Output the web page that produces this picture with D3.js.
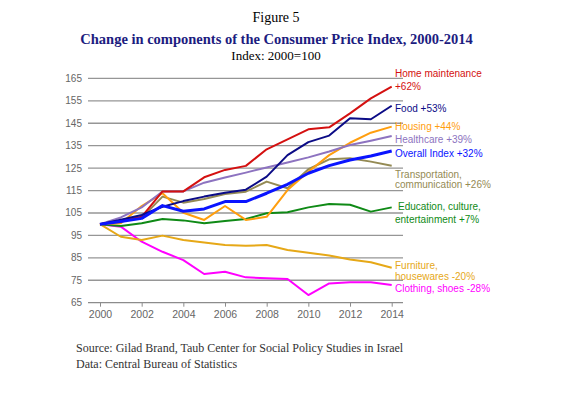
<!DOCTYPE html>
<html>
<head>
<meta charset="utf-8">
<script src="https://cdn.jsdelivr.net/npm/d3@7"></script>
<style>
  body { margin: 0; background: #fff; }
  svg { display: block; }
</style>
</head>
<body>
<div id="chart"></div>
<script>
// data, index 2000=100
const years = d3.range(2000, 2015);
const yTicks = [65, 75, 85, 95, 105, 115, 125, 135, 145, 155, 165];
const xTicks = [2000, 2002, 2004, 2006, 2008, 2010, 2012, 2014];

const homeMaintenance = [100, 101.5, 103.3, 114.6, 114.6, 120.9, 124.2, 126, 133.4, 137.8, 142.3, 143.2, 149.4, 156.1, 161.3];
const food = [100, 102, 104.1, 107.8, 110.3, 112.3, 114, 115.4, 121.2, 130.8, 136.6, 139.5, 147.2, 146.8, 152.8];
const housing = [100, 100.4, 108.1, 113.8, 105.1, 101.9, 108.1, 101.9, 103.3, 115.2, 123.4, 130.8, 136.3, 140.8, 143.5];
const healthcare = [100, 103, 107.5, 114.6, 114.6, 118.5, 120.8, 123, 125.3, 127.5, 129.8, 132.4, 135.3, 137.2, 139.3];
const overall = [100, 101.2, 102.6, 108.3, 105.8, 106.8, 110.1, 110.1, 113.8, 117.8, 122.7, 126.1, 128.6, 130.4, 132.6];
const transport = [100, 101.5, 102.8, 112.3, 109.6, 111.2, 113.5, 114.5, 119, 116, 124.5, 128.9, 129.4, 127.9, 126.1];
const education = [100, 99.2, 100.4, 102.3, 101.7, 100.4, 101.4, 102.3, 104.9, 105.3, 107.5, 109, 108.7, 105.6, 107.5];
const furniture = [100, 94.4, 93, 94.9, 93, 91.8, 90.7, 90.4, 90.7, 88.5, 87.3, 86, 84.3, 83, 80.6];
const clothing = [100, 98.9, 92.2, 87.7, 84, 77.8, 78.8, 76.3, 75.9, 75.6, 68.4, 73.6, 74.1, 74.1, 72.9];

const series = [
  {name: "Clothing, shoes", values: clothing, color: "#ff00ff", w: 2},
  {name: "Furniture, housewares", values: furniture, color: "#e6a817", w: 2},
  {name: "Education, culture, entertainment", values: education, color: "#0f8a16", w: 2},
  {name: "Transportation, communication", values: transport, color: "#948a54", w: 2},
  {name: "Housing", values: housing, color: "#ff9e0e", w: 2},
  {name: "Healthcare", values: healthcare, color: "#8d73c0", w: 2},
  {name: "Home maintenance", values: homeMaintenance, color: "#d41010", w: 2},
  {name: "Food", values: food, color: "#0b0b86", w: 2},
  {name: "Overall Index", values: overall, color: "#0a14ff", w: 3}
];

// end labels, y given in index units
const labels = [
  {text: "Home maintenance", v: 167, dx: 0, color: "#d41010"},
  {text: "+62%", v: 161.6, dx: 0, color: "#d41010"},
  {text: "Food +53%", v: 151.6, dx: 0, color: "#0b0b86"},
  {text: "Housing +44%", v: 143.4, dx: 0, color: "#ff9e0e"},
  {text: "Healthcare +39%", v: 137.9, dx: 0, color: "#8d73c0"},
  {text: "Overall Index +32%", v: 131.6, dx: 0, color: "#0a14ff"},
  {text: "Transportation,", v: 122.3, dx: 0, color: "#948a54"},
  {text: "communication +26%", v: 117.5, dx: 0, color: "#948a54"},
  {text: "Education, culture,", v: 108.1, dx: 3, color: "#0f8a16"},
  {text: "entertainment +7%", v: 102.3, dx: 0, color: "#0f8a16"},
  {text: "Furniture,", v: 81.8, dx: 0, color: "#e6a817"},
  {text: "housewares -20%", v: 76.9, dx: 0, color: "#e6a817"},
  {text: "Clothing, shoes -28%", v: 71.2, dx: 0, color: "#ff00ff"}
];

const width = 583, height = 393;

const svg = d3.select("#chart").append("svg")
    .attr("width", width)
    .attr("height", height);

const x = d3.scaleLinear().domain([2000, 2014]).range([100, 391.7]);
const y = d3.scaleLinear().domain([65, 165]).range([302.7, 78.4]);

// titles
svg.append("text")
    .attr("x", 276).attr("y", 22)
    .attr("text-anchor", "middle")
    .style("font-family", "Liberation Serif, Times New Roman, serif")
    .style("font-size", "14px")
    .text("Figure 5");

svg.append("text")
    .attr("x", 276.5).attr("y", 43.5)
    .attr("text-anchor", "middle")
    .style("font-family", "Liberation Serif, Times New Roman, serif")
    .style("font-size", "14.5px")
    .style("font-weight", "bold")
    .style("fill", "#1c1c80")
    .text("Change in components of the Consumer Price Index, 2000-2014");

svg.append("text")
    .attr("x", 276).attr("y", 60)
    .attr("text-anchor", "middle")
    .style("font-family", "Liberation Serif, Times New Roman, serif")
    .style("font-size", "13px")
    .text("Index: 2000=100");

// gridlines
svg.append("g").selectAll("line")
    .data(yTicks.slice(1))
    .enter().append("line")
        .attr("x1", 88).attr("x2", 403)
        .attr("y1", d => y(d)).attr("y2", d => y(d))
        .attr("stroke", "#969696")
        .attr("stroke-width", 1.3);

// y axis labels
svg.append("g").selectAll("text")
    .data(yTicks)
    .enter().append("text")
        .attr("x", 82)
        .attr("y", d => y(d))
        .attr("dy", "0.35em")
        .attr("text-anchor", "end")
        .style("font-family", "Liberation Sans, Arial, sans-serif")
        .style("font-size", "10px")
        .style("fill", "#666")
        .text(d => d);

// x axis
const xAxis = d3.axisBottom(x)
    .tickValues(xTicks)
    .tickFormat(d3.format("d"))
    .tickSize(4)
    .tickSizeOuter(0);

const gx = svg.append("g")
    .attr("transform", `translate(0,${y(65)})`)
    .call(xAxis);
gx.select(".domain").remove();
gx.append("line")
    .attr("x1", 88).attr("x2", 403)
    .attr("stroke", "#8c8c8c")
    .attr("stroke-width", 1.3);
gx.selectAll(".tick line").attr("stroke", "#8c8c8c");
gx.selectAll(".tick text")
    .attr("y", 8)
    .style("font-family", "Liberation Sans, Arial, sans-serif")
    .style("font-size", "10.5px")
    .style("fill", "#666");

// series lines
const line = d3.line()
    .x((d, i) => x(years[i]))
    .y(d => y(d));

svg.append("g").selectAll("path")
    .data(series)
    .enter().append("path")
        .attr("d", d => line(d.values))
        .attr("fill", "none")
        .attr("stroke", d => d.color)
        .attr("stroke-width", d => d.w)
        .attr("stroke-linejoin", "round");

// end labels
svg.append("g").selectAll("text")
    .data(labels)
    .enter().append("text")
        .attr("x", d => 395 + d.dx)
        .attr("y", d => y(d.v))
        .attr("dy", "0.35em")
        .style("font-family", "Liberation Sans, Arial, sans-serif")
        .style("font-size", "10px")
        .style("fill", d => d.color)
        .text(d => d.text);

// source notes
svg.append("text")
    .attr("x", 76).attr("y", 352)
    .style("font-family", "Liberation Serif, Times New Roman, serif")
    .style("font-size", "12px")
    .style("fill", "#333")
    .text("Source: Gilad Brand, Taub Center for Social Policy Studies in Israel");

svg.append("text")
    .attr("x", 76).attr("y", 368)
    .style("font-family", "Liberation Serif, Times New Roman, serif")
    .style("font-size", "12px")
    .style("fill", "#333")
    .text("Data: Central Bureau of Statistics");
</script>
</body>
</html>
